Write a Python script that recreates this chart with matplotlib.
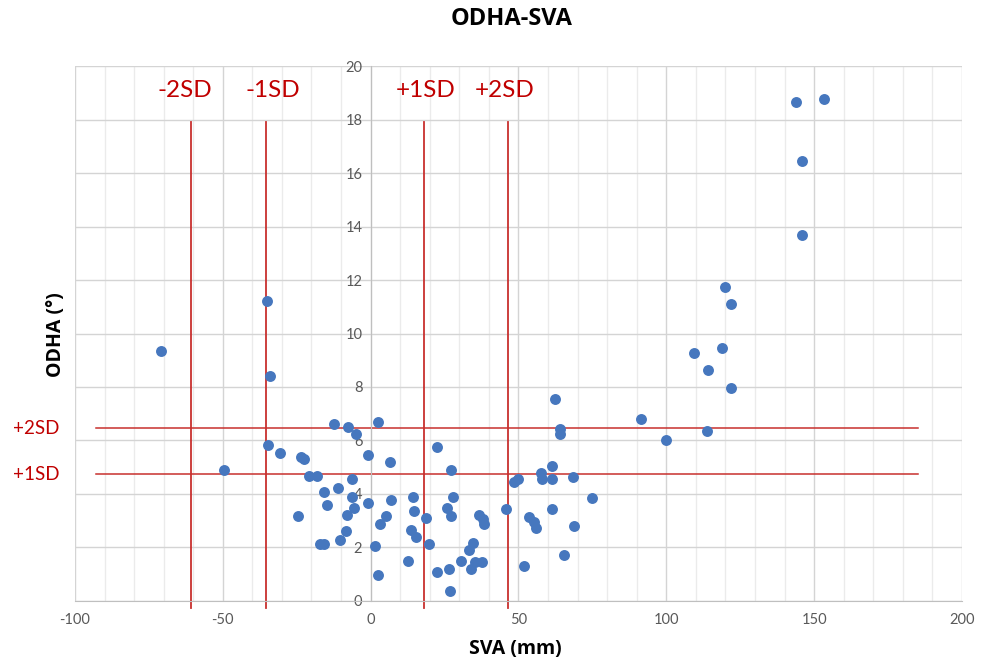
import matplotlib.pyplot as plt
import numpy as np

plt.rcParams['font.family'] = ['Lato', 'DejaVu Sans']
plt.rcParams['axes.unicode_minus'] = False

# SVA (mm) and ODHA (deg)
sva = [-70.9, -35.1, -33.9, -34.6, -30.6, -49.5, -24.5, -23.6, -22.7, -20.8,
       -18.0, -17.1, -15.7, -15.7, -14.6, -12.3, -11.0, -10.5, -8.4, -8.0,
       -7.6, -6.4, -6.2, -5.7, -5.1, -1.0, -1.0, 1.5, 2.4, 2.4,
       3.2, 5.1, 6.6, 7.0, 12.6, 13.7, 14.2, 14.6, 15.5, 18.8,
       19.8, 22.5, 22.5, 25.9, 26.4, 26.8, 27.1, 27.3, 27.9, 30.7,
       33.2, 34.1, 34.5, 35.4, 36.7, 37.8, 38.0, 38.3, 45.8, 48.6,
       49.7, 52.0, 53.5, 55.2, 55.8, 57.5, 57.9, 61.3, 61.4, 61.4,
       62.3, 64.2, 64.2, 65.5, 68.5, 68.9, 75.0, 91.5, 100.0, 113.8,
       114.2, 109.4, 118.9, 121.7, 119.9, 121.7, 143.8, 153.3, 145.8, 145.8]
odha = [9.36, 11.23, 8.41, 5.83, 5.55, 4.88, 3.17, 5.39, 5.29, 4.68,
        4.68, 2.12, 2.12, 4.06, 3.58, 6.61, 4.21, 2.28, 2.61, 3.21,
        6.51, 3.87, 4.55, 3.48, 6.23, 5.45, 3.68, 2.07, 6.70, 0.98,
        2.86, 3.17, 5.19, 3.79, 1.51, 2.66, 3.89, 3.38, 2.39, 3.12,
        2.12, 5.76, 1.08, 3.48, 1.18, 0.36, 3.17, 4.89, 3.89, 1.49,
        1.92, 1.18, 2.18, 1.45, 3.23, 1.45, 3.06, 2.89, 3.43, 4.44,
        4.55, 1.30, 3.14, 2.96, 2.71, 4.80, 4.57, 5.03, 4.57, 3.43,
        7.54, 6.44, 6.24, 1.71, 4.62, 2.81, 3.84, 6.81, 6.03, 6.35,
        8.62, 9.26, 9.47, 7.95, 11.75, 11.12, 18.67, 18.77, 16.44, 13.68]

# SD reference lines
sva_sd_labels = ['-2SD', '-1SD', '+1SD', '+2SD']
sva_sd = [-60.7, -35.5, 18.0, 46.3]
odha_sd_labels = ['+2SD', '+1SD']
odha_sd = [6.45, 4.73]

red = '#C00000'
line_red = '#C8302E'
blue = '#4677BE'
bold_font = ['Open Sans', 'DejaVu Sans']

fig = plt.figure(figsize=(9.86, 6.67), dpi=100)
ax = fig.add_axes([0.076, 0.099, 0.8997, 0.802])

ax.set_xlim(-100, 200)
ax.set_ylim(0, 20)
ax.set_xticks(np.arange(-100, 201, 50))
ax.set_xticks(np.arange(-100, 201, 10), minor=True)
ax.set_yticks(np.arange(0, 21, 2))

# Excel style grid
ax.grid(True, which='major', color='#D4D4D4', linewidth=1.0)
ax.grid(True, which='minor', axis='x', color='#EBEBEB', linewidth=1.0)
ax.set_axisbelow(True)

# y axis sits at x = 0
ax.spines['left'].set_position(('data', 0))
ax.spines['left'].set_color('#BFBFBF')
ax.spines['bottom'].set_color('#BFBFBF')
ax.spines['top'].set_visible(False)
ax.spines['right'].set_visible(False)
ax.tick_params(axis='both', which='both', length=0)
ax.tick_params(axis='x', labelsize=10.5, labelcolor='#595959', pad=9)
ax.tick_params(axis='y', labelsize=10.5, labelcolor='#595959', pad=6)

ax.scatter(sva, odha, s=62, color=blue, zorder=3, linewidths=0)

# text boxes in the original sit a little off the lines
label_shift = [-2, 2.5, 0.5, -1]
for lab, v, dx in zip(sva_sd_labels, sva_sd, label_shift):
    ax.plot([v, v], [-0.25, 17.9], color=line_red, linewidth=1.3,
            clip_on=False, zorder=2)
    ax.text(v + dx, 19.1, lab, color=red, fontsize=17.5, ha='center',
            va='center')

for lab, v in zip(odha_sd_labels, odha_sd):
    ax.plot([-93, 185], [v, v], color=line_red, linewidth=1.1, zorder=2)
    ax.text(-113, v, lab, color=red, fontsize=13.5, ha='center', va='center',
            clip_on=False)

fig.text(0.519, 0.972, 'ODHA-SVA', fontsize=17, fontweight='bold',
         ha='center', va='center', family=bold_font)
fig.text(0.523, 0.027, 'SVA (mm)', fontsize=14, fontweight='bold',
         ha='center', va='center', family=bold_font)
fig.text(0.057, 0.498, 'ODHA (°)', fontsize=14, fontweight='bold',
         ha='center', va='center', rotation=90, family=bold_font)

fig.savefig('out.png', dpi=100)
